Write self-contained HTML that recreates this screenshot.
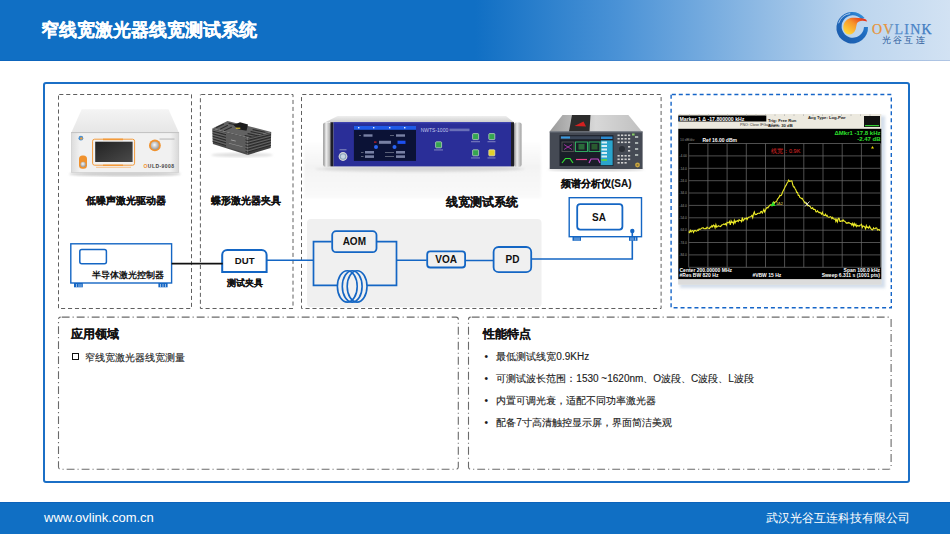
<!DOCTYPE html>
<html><head><meta charset="utf-8">
<style>
*{box-sizing:border-box}
html,body{margin:0;padding:0;width:950px;height:534px;overflow:hidden;background:#fff;font-family:"Liberation Sans",sans-serif;}
.a{position:absolute}
#hdr{left:0;top:0;width:950px;height:61px;background:linear-gradient(90deg,#106fc4 0%,#106fc4 50%,#4a92d6 65%,#8fbae4 80%,#bcd5ee 90%,#d2e2f3 100%);}
#title{left:41.2px;top:19px;font-size:17.8px;font-weight:bold;color:#fff;line-height:22px;white-space:nowrap;-webkit-text-stroke:0.2px #fff}
#ftr{left:0;top:502px;width:950px;height:32px;background:#106fc4}
.ft{color:#fff;font-size:12px;line-height:14px;top:511px;white-space:nowrap}
#panel{left:43.1px;top:82.1px;width:866.5px;height:400.5px;border:2px solid #1b6fc6;border-radius:3px}
.lbl{font-weight:bold;color:#111;white-space:nowrap;line-height:1;-webkit-text-stroke:0.12px #111}
.box{border:2px solid #1a6fc8;background:#fff;font-weight:bold;color:#111;text-align:center;white-space:nowrap}
</style></head><body>
<div id="hdr" class="a"></div>
<div class="a" style="left:0;top:60px;width:950px;height:1px;background:rgba(0,50,150,0.16)"></div>

<svg id="logo" class="a" style="left:0;top:0" width="950" height="61" viewBox="0 0 950 61">
 <defs>
  <linearGradient id="lgring" x1="0" y1="1" x2="1" y2="0"><stop offset="0" stop-color="#1b58a8"/><stop offset="0.6" stop-color="#1f6cc0"/><stop offset="1" stop-color="#3a9ee6"/></linearGradient>
  <linearGradient id="lgfl" x1="0.1" y1="0.9" x2="0.9" y2="0.1"><stop offset="0" stop-color="#ffd83a"/><stop offset="0.55" stop-color="#f7952a"/><stop offset="1" stop-color="#e4301c"/></linearGradient>
  <linearGradient id="lgtxt" x1="0" y1="0" x2="1" y2="0"><stop offset="0" stop-color="#e8923a"/><stop offset="0.25" stop-color="#e8923a"/><stop offset="0.33" stop-color="#5b90cc"/><stop offset="1" stop-color="#3a76bc"/></linearGradient>
 </defs>
 <path d="M868.00,27.00 A15.8,15.8 0 1 1 864.65,17.97 L861.38,19.30 A11.2,11.2 0 1 0 864.00,27.10 Z" fill="url(#lgring)"/>
 <path d="M838.60,23.28 A14.3,14.3 0 0 1 850.21,13.54" fill="none" stroke="#b9d3ee" stroke-width="0.9"/>
 <path d="M867.2,21.6 C862,20 858.5,21 857,23.2 C856.3,25.5 856.2,27.5 855.6,29.5 C854.3,33 851.5,34.8 849,34.6 C845,34 843.2,30.5 843.3,27 C843.5,22 847.5,18.3 852,17.8 C857,17.3 863,18 866,19.5 Z" fill="url(#lgfl)"/>
 <text x="872" y="34.3" font-family="Liberation Serif" font-size="14" fill="url(#lgtxt)" letter-spacing="1.2" stroke="url(#lgtxt)" stroke-width="0.25">OVLINK</text>
 <text x="881.5" y="42.6" font-family="Liberation Serif" font-size="8.6" fill="#2c5c9c" letter-spacing="2.4">光谷互连</text>
</svg>

<div id="title" class="a">窄线宽激光器线宽测试系统</div>
<div id="ftr" class="a"></div>
<div class="a" style="left:0;top:502px;width:950px;height:1px;background:rgba(0,50,150,0.2)"></div>
<div class="a ft" style="left:44px;font-size:13px;top:510.5px">www.ovlink.com.cn</div>
<div class="a ft" style="left:766px">武汉光谷互连科技有限公司</div>
<div id="panel" class="a"></div>

<svg class="a" style="left:0;top:0" width="950" height="534" viewBox="0 0 950 534">
  <!-- gray rect in box3 -->
  <rect x="307" y="219" width="234.5" height="88.2" rx="4" fill="#f0f0f0"/>
  <!-- dashed boxes -->
  <g fill="none" stroke="#606060" stroke-width="1" stroke-dasharray="4.1 2.85" stroke-dashoffset="6.2">
    <rect x="58.5" y="94.5" width="133" height="214"/>
    <rect x="200.4" y="94.5" width="92.6" height="214"/>
    <rect x="301.5" y="94.5" width="359.6" height="214"/>
  </g>
  <rect x="671.1" y="94.5" width="220.2" height="213.2" fill="none" stroke="#1565c8" stroke-width="1.4" stroke-dasharray="4 2.95" stroke-dashoffset="6.2"/>
  <g fill="none" stroke="#6a6a6a" stroke-width="1.1" stroke-dasharray="7.9 3 1.1 3" stroke-dashoffset="-1">
    <rect x="58.5" y="317.1" width="399.8" height="152.2" rx="2.2"/>
    <rect x="468.5" y="317.1" width="422.6" height="152.2" rx="2.2"/>
  </g>
</svg>


<svg class="a" style="left:0;top:0" width="950" height="534" viewBox="0 0 950 534">
 <g fill="none" stroke="#1466c4" stroke-width="1.7">
  <!-- controller -->
  <rect x="70.8" y="243.8" width="100.8" height="39.2" fill="#fff" stroke-width="1.4"/>
  <rect x="79.8" y="249.5" width="26.6" height="14.3" rx="2" stroke-width="1.5"/>
  <!-- DUT -->
  <path d="M222.2,272 V255.1 a5,5 0 0 1 5,-5 H261.6 a5,5 0 0 1 5,5 V272 Z" fill="#fff" stroke-width="2"/>
  <!-- line DUT to loop -->
  <path d="M266.6,260.3 H313.5" stroke-width="1.6"/>
  <!-- loop -->
  <path d="M331.6,241.6 H313.5 V285.4 H337.4 M367,285.4 H396.5 V241.6 H377" stroke-width="1.7"/>
  <path d="M396.5,260.3 H426.7 M465.6,260.5 H493 M532,259 H632.3 V231" stroke-width="1.6"/>
  <rect x="332.2" y="231.1" width="44.3" height="21.1" rx="4" fill="none" stroke-width="1.8"/>
  <rect x="427.2" y="251.4" width="37.9" height="16.1" rx="3" fill="none" stroke-width="1.8"/>
  <rect x="493.6" y="247" width="37.6" height="25.2" rx="5" fill="none" stroke-width="1.8"/>
  <!-- coil -->
  <ellipse cx="347.3" cy="286.4" rx="9.9" ry="15.7" stroke-width="1.6"/>
  <ellipse cx="352.2" cy="286.4" rx="9.9" ry="15.7" stroke-width="1.6"/>
  <ellipse cx="357.1" cy="286.4" rx="9.9" ry="15.7" stroke-width="1.6"/>
  <!-- SA -->
  <rect x="569.2" y="197.7" width="72.3" height="39" fill="none" stroke-width="1.4"/>
  <rect x="577.2" y="204.1" width="45.2" height="25.5" rx="3" stroke-width="1.8"/>
 </g>
 <path d="M171.6,263.6 H222.7" stroke="#111" stroke-width="1.6"/>
 <circle cx="632.3" cy="231" r="2.2" fill="#1466c4"/>
 <g fill="#1466c4">
  <rect x="74" y="283" width="8.8" height="4.3"/>
  <rect x="158.4" y="283" width="9.2" height="4.3"/>
  <rect x="572.5" y="236.5" width="8.5" height="4.3"/>
  <rect x="629" y="236.5" width="8.5" height="4.3"/>
 </g>
 <g stroke="#cfe0f4" stroke-width="0.7">
  <path d="M76.5,284 V287 M79,284 V287 M81,284 V287 M160.5,284 V287 M163,284 V287 M165.5,284 V287"/>
  <path d="M575,237.5 V240.5 M577,237.5 V240.5 M579,237.5 V240.5 M631,237.5 V240.5 M633,237.5 V240.5 M635.5,237.5 V240.5"/>
 </g>
 <g font-family="Liberation Sans" font-weight="bold" font-size="10" fill="#111" text-anchor="middle">
  <text x="354.3" y="245">AOM</text>
  <text x="446.2" y="263.3">VOA</text>
  <text x="512.5" y="262.6">PD</text>
  <text x="599" y="220.7">SA</text>
  <text x="244.7" y="263.8" font-size="9.6">DUT</text>
 </g>
 <text x="92.4" y="278" font-family="Liberation Sans" font-weight="bold" font-size="9" fill="#111">半导体激光控制器</text>
</svg>


<svg class="a" style="left:0;top:0" width="950" height="534" viewBox="0 0 950 534">
 <defs>
  <linearGradient id="g1top" x1="0" y1="0" x2="0" y2="1"><stop offset="0" stop-color="#f4f4f4"/><stop offset="1" stop-color="#e6e6e6"/></linearGradient>
  <linearGradient id="g1front" x1="0" y1="0" x2="1" y2="0"><stop offset="0" stop-color="#dcdcdc"/><stop offset="0.08" stop-color="#f1f1f1"/><stop offset="0.92" stop-color="#f1f1f1"/><stop offset="1" stop-color="#d8d8d8"/></linearGradient>
  <linearGradient id="gscr" x1="0" y1="0" x2="1" y2="1"><stop offset="0" stop-color="#222"/><stop offset="1" stop-color="#4a4a4a"/></linearGradient>
  <radialGradient id="gknob" cx="0.45" cy="0.4" r="0.6"><stop offset="0" stop-color="#fafafa"/><stop offset="1" stop-color="#9a9a9a"/></radialGradient>
  <linearGradient id="ghandle" x1="0" y1="0" x2="1" y2="0"><stop offset="0" stop-color="#8a8a8a"/><stop offset="0.4" stop-color="#f0f0f0"/><stop offset="1" stop-color="#a0a0a0"/></linearGradient>
  <linearGradient id="gnwtop" x1="0" y1="0" x2="0" y2="1"><stop offset="0" stop-color="#eeeeee"/><stop offset="1" stop-color="#cfcfcf"/></linearGradient>
  <linearGradient id="gsatop" x1="0" y1="0" x2="1" y2="0"><stop offset="0" stop-color="#9a9a9a"/><stop offset="0.5" stop-color="#d8d8d8"/><stop offset="1" stop-color="#c0c0c0"/></linearGradient>
  <linearGradient id="gfloor" x1="0" y1="0" x2="0" y2="1"><stop offset="0" stop-color="#ffffff"/><stop offset="0.46" stop-color="#f3f3f3"/><stop offset="0.75" stop-color="#f7f7f7"/><stop offset="1" stop-color="#fafafa"/></linearGradient>
  <filter id="blur1"><feGaussianBlur stdDeviation="1.2"/></filter>
 </defs>
 <!-- Device 1: laser driver -->
 <ellipse cx="125" cy="174" rx="56" ry="2.5" fill="#cfcfcf" filter="url(#blur1)"/>
 <polygon points="81.7,109.2 168.5,109.2 178.8,132.6 71.4,132.6" fill="url(#g1top)"/>
 <rect x="71.4" y="132.6" width="107.4" height="39.8" fill="url(#g1front)" stroke="#c9c9c9" stroke-width="0.6"/>
 <line x1="71.4" y1="132.6" x2="178.8" y2="132.6" stroke="#bdbdbd" stroke-width="0.8"/>
 <rect x="92.6" y="139.2" width="42" height="26" rx="2" fill="none" stroke="#f39a3a" stroke-width="1"/>
 <rect x="103" y="138.6" width="20" height="1.6" fill="#f39a3a"/>
 <rect x="103" y="164.6" width="20" height="1.4" fill="#f39a3a"/>
 <rect x="95.2" y="141.7" width="37.4" height="20.3" fill="url(#gscr)"/>
 <rect x="96" y="166.8" width="35" height="1" fill="#f6c08a"/>
 <circle cx="154.9" cy="145.4" r="5.9" fill="#f0922e"/>
 <circle cx="154.9" cy="145.6" r="4.1" fill="url(#gknob)"/>
 <rect x="159.5" y="138.6" width="15" height="0.9" fill="#b0b0b0"/>
 <rect x="79" y="155.4" width="8" height="13.4" rx="3.5" fill="#f0922e"/>
 <circle cx="83.1" cy="164.4" r="2.6" fill="url(#gknob)"/>
 <circle cx="80.9" cy="138.2" r="2.4" fill="#4a90d0"/>
 <circle cx="81.3" cy="138.4" r="1.2" fill="#f3a03a"/>
 <text x="143.5" y="167.8" font-family="Liberation Sans" font-size="5" font-weight="bold" fill="#444" letter-spacing="0.45"><tspan fill="#f0922e">O</tspan>ULD-9008</text>

 <!-- Device 2: butterfly fixture -->
 <ellipse cx="242" cy="155" rx="31" ry="2.2" fill="#e0e0e0" filter="url(#blur1)"/>
 <polygon points="212.3,128.5 227.5,121 271.2,131.9 247.7,137.5" fill="#626262"/>
 <polygon points="212.3,128.5 247.7,137.5 247.7,155 212.9,144" fill="#4a4a4a"/>
 <polygon points="247.7,137.5 271.2,131.9 270.7,148 247.7,155" fill="#404040"/>
 <g stroke="#2c2c2c" stroke-width="1.1" fill="none" stroke-linecap="round">
  <path d="M216.5,127.4 L223.5,124.2 M220.5,129 L227.5,125.6 M224.5,130.4 L231.5,127.2 M229,123.4 L235,124.8"/>
  <path d="M251,131.6 L262.5,134.3 M248,133.6 L259,136.1 M245,135.5 L254,137.3 M253,129.6 L265,132.3"/>
 </g>
 <g stroke="#2a2a2a" stroke-width="1" fill="none"><path d="M212.6,131.08 L247.7,140.42 L270.9,134.58 M212.6,133.67 L247.7,143.33 L270.9,137.27 M212.6,136.25 L247.7,146.25 L270.9,139.95 M212.6,138.83 L247.7,149.17 L270.9,142.63 M212.6,141.42 L247.7,152.08 L270.9,145.32"/></g>
 <g stroke="#7c7c7c" stroke-width="0.6" fill="none"><path d="M212.6,129.98 L247.7,139.32 L270.9,133.48 M212.6,132.57 L247.7,142.23 L270.9,136.17 M212.6,135.15 L247.7,145.15 L270.9,138.85 M212.6,137.73 L247.7,148.07 L270.9,141.53 M212.6,140.32 L247.7,150.98 L270.9,144.22"/></g>
 <polygon points="226,132.4 245.5,137.3 245.5,152.5 226,147.2" fill="#5c5c5c"/>
 <rect x="231" y="139.5" width="5" height="0.8" fill="#aaa" transform="rotate(14 231 139.5)"/>
 <rect x="229" y="143" width="14" height="0.6" fill="#999" transform="rotate(14 229 143)"/>
 <polygon points="233.5,125 240,122.2 248,124.5 246.5,130.8 238,129.2" fill="#1c1c1c"/>
 <rect x="235.8" y="127.6" width="4.5" height="1.3" fill="#c9b030"/>
 <!-- Device 3: NWTS-1000 -->
 <rect x="304" y="140" width="237" height="58" fill="url(#gfloor)" filter="url(#blur1)"/>
 <ellipse cx="420" cy="169" rx="105" ry="3.5" fill="#e4e4e4" filter="url(#blur1)"/>
 <ellipse cx="422" cy="168.5" rx="98" ry="2.2" fill="#d4d4d4" filter="url(#blur1)"/>
 <polygon points="337.5,116.1 506,116.1 514,122.2 325.3,122.2" fill="url(#gnwtop)"/>
 <rect x="323.2" y="122.4" width="7.4" height="44.4" rx="2.2" fill="url(#ghandle)"/>
 <rect x="514" y="122.4" width="7.6" height="44.4" rx="2.2" fill="url(#ghandle)"/>
 <rect x="330.4" y="122.2" width="3.2" height="44.2" fill="#1e1e28"/>
 <rect x="511" y="122.2" width="3" height="44.2" fill="#1e1e28"/>
 <rect x="333.6" y="122.2" width="177.4" height="44.2" fill="#2a2e98"/>
 <rect x="333.6" y="122.2" width="177.4" height="1.2" fill="#3a40b0"/>
 <rect x="353.9" y="125.8" width="62.1" height="35.1" fill="#0b1236"/>
 <rect x="353.9" y="125.8" width="62.1" height="4" fill="#1f5ae8"/>
 <g fill="#e8eefc"><rect x="358" y="127" width="1.4" height="1.4"/><rect x="373" y="127" width="1.4" height="1.4"/><rect x="389" y="127" width="1.4" height="1.4"/><rect x="404" y="127" width="1.4" height="1.4"/></g>
 <g fill="#7880a4">
  <rect x="363.5" y="134.3" width="9" height="2.4"/><rect x="396" y="134.3" width="9" height="2.4"/>
  <rect x="379" y="140.8" width="12" height="3"/>
  <rect x="365" y="151" width="9" height="2.6"/><rect x="365" y="155.3" width="9" height="2.6"/>
  <rect x="396" y="151" width="9" height="2.6"/><rect x="396" y="155.3" width="9" height="2.6"/>
 </g>
 <g fill="#5a6078"><rect x="359" y="135" width="2" height="1"/><rect x="390" y="135" width="4" height="1"/><rect x="361" y="152" width="2.5" height="1"/><rect x="361" y="156" width="2.5" height="1"/><rect x="385" y="152" width="9" height="1"/><rect x="385" y="156" width="9" height="1"/></g>
 <rect x="374" y="141.5" width="2.5" height="1.2" fill="#d02020"/>
 <rect x="397.5" y="140.7" width="8" height="3.2" fill="#1d50f0"/>
 <circle cx="376" cy="147" r="2" fill="#2a64f0"/><circle cx="394.5" cy="147" r="2" fill="#2a64f0"/>
 <circle cx="343" cy="156.5" r="4.4" fill="#d8d8d8"/><circle cx="343" cy="156.5" r="3.3" fill="#8ca4bc"/><circle cx="343" cy="156.5" r="2.2" fill="#c8d6e4"/>
 <rect x="339.5" y="149.3" width="7" height="1" fill="#8a90c0"/>
 <text x="420.7" y="131.8" font-family="Liberation Sans" font-size="5" fill="#c4c8ec">NWTS-1000</text>
 <rect x="449.5" y="128.6" width="20" height="2.6" fill="#6a70b8"/>
 <g fill="#34a550" stroke="#c8dcc8" stroke-width="0.7">
  <rect x="435.6" y="141.8" width="6" height="6" rx="0.8"/>
  <rect x="472.6" y="133.6" width="6" height="6" rx="0.8"/>
  <rect x="488.8" y="133.6" width="6" height="6" rx="0.8"/>
  <rect x="472.6" y="149.8" width="6" height="6" rx="0.8"/>
 </g>
 <rect x="488.8" y="149.8" width="6" height="6" rx="0.8" fill="#e2d02a" stroke="#ece8b0" stroke-width="0.7"/>
 <g fill="#8a8ec8"><rect x="434" y="149.5" width="9" height="0.9"/><rect x="471" y="141.3" width="9" height="0.9"/><rect x="487.5" y="141.3" width="8" height="0.9"/><rect x="471" y="157.5" width="9" height="0.9"/><rect x="487.5" y="157.5" width="8" height="0.9"/></g>
 <!-- Device 4: SA -->
 <ellipse cx="596" cy="169.5" rx="48" ry="1.8" fill="#d4d4d4" filter="url(#blur1)"/>
 <polygon points="562.5,115 628.4,115 641.9,131.5 549.7,131.5" fill="url(#gsatop)"/>
 <polygon points="572,115 590.5,115 589.5,131.5 569,131.5" fill="#2c2c2c"/>
 <path d="M574.5,126 L583.5,121.5 L586,126.5 Z" fill="#d42020"/>
 <rect x="549.7" y="131.5" width="92.9" height="37.5" fill="#454a54"/>
 <rect x="549.7" y="131.5" width="92.9" height="1" fill="#6a707a"/>
 <rect x="559.5" y="135.2" width="53.9" height="30.8" fill="#1a1e28"/>
 <rect x="560.5" y="136.2" width="40" height="3" fill="#3a4658"/>
 <rect x="561" y="136.5" width="9" height="2" fill="#3a9ae0"/>
 <rect x="601" y="136.5" width="11.5" height="2.5" fill="#2a8ad0"/>
 <rect x="600.7" y="140.4" width="12" height="24.8" fill="#2aa4cc"/>
 <g fill="#d8eef6"><rect x="601.5" y="141.5" width="5.5" height="2"/><rect x="601.5" y="145" width="5.5" height="2"/><rect x="601.5" y="148.5" width="5.5" height="2"/><rect x="601.5" y="152" width="5.5" height="2"/><rect x="601.5" y="155.5" width="5.5" height="2"/></g>
 <rect x="601.5" y="159" width="5.5" height="2" fill="#5c5"/>
 <g fill="none" stroke-width="0.9">
  <rect x="562" y="142" width="12" height="9.5" stroke="#555"/>
  <rect x="575.5" y="142" width="12" height="9.5" stroke="#3b6"/>
  <rect x="589" y="142" width="11" height="9.5" stroke="#3b6"/>
  <rect x="578.5" y="144" width="6" height="5.5" fill="#2a6a3a" stroke="none"/>
  <rect x="591.5" y="144" width="6" height="5.5" fill="#2a5a30" stroke="none"/>
  <path d="M564,144.5 L572,149.5 M572,144.5 L564,149.5" stroke="#a3a"/>
  <path d="M562,163 L565.5,158.5 L570,158.5 L573,163" stroke="#3d3" stroke-width="1.2"/>
  <path d="M576,159.5 H587" stroke="#e8408a" stroke-width="1.2"/>
  <path d="M589,163 L591,159 H598 L600,163" stroke="#c44ccc" stroke-width="1.2"/>
 </g>
 <g fill="#d0d0d0">
  <rect x="617.5" y="134.5" width="2.2" height="1.6"/><rect x="621" y="134.5" width="2.2" height="1.6"/><rect x="624.5" y="134.5" width="2.2" height="1.6"/><rect x="628" y="134.5" width="2.2" height="1.6"/>
  <rect x="617.5" y="138" width="2.2" height="1.6"/><rect x="621" y="138" width="2.2" height="1.6"/><rect x="624.5" y="138" width="2.2" height="1.6"/><rect x="628" y="138" width="2.2" height="1.6"/>
  <rect x="617.5" y="141.5" width="2.2" height="1.6"/><rect x="621" y="141.5" width="2.2" height="1.6"/><rect x="624.5" y="141.5" width="2.2" height="1.6"/><rect x="628" y="141.5" width="2.2" height="1.6"/>
  <rect x="628" y="146" width="2.2" height="1.6"/><rect x="628" y="150" width="2.2" height="1.6"/>
  <rect x="617.5" y="155" width="2.2" height="1.6"/><rect x="621" y="155" width="2.2" height="1.6"/><rect x="624.5" y="155" width="2.2" height="1.6"/><rect x="628" y="155" width="2.2" height="1.6"/>
  <rect x="617.5" y="158.5" width="2.2" height="1.6"/><rect x="621" y="158.5" width="2.2" height="1.6"/><rect x="624.5" y="158.5" width="2.2" height="1.6"/><rect x="628" y="158.5" width="2.2" height="1.6"/>
  <rect x="617.5" y="162" width="2.2" height="1.6"/><rect x="621" y="162" width="2.2" height="1.6"/><rect x="624.5" y="162" width="2.2" height="1.6"/>
 </g>
 <circle cx="622" cy="149" r="3.6" fill="#2a2e36" stroke="#5a5e66" stroke-width="0.5"/>
 <rect x="632" y="133.5" width="2.6" height="2" fill="#8c6"/>
 <g fill="#a8b0b0"><rect x="635" y="136" width="3.2" height="2"/><rect x="635" y="142" width="3.2" height="2"/><rect x="635" y="148" width="3.2" height="2"/><rect x="635" y="154" width="3.2" height="2"/></g>
 <circle cx="637.5" cy="165" r="2.4" fill="#c9a640"/>
 <circle cx="637.5" cy="165" r="1" fill="#8a7030"/>
 </svg>


<svg class="a" style="left:0;top:0" width="950" height="534" viewBox="0 0 950 534">
 <defs><filter id="sh2"><feGaussianBlur stdDeviation="1.5"/></filter></defs>
 <rect x="680" y="116" width="205" height="172" fill="#c9d6e6" filter="url(#sh2)" opacity="0.8"/>
 <rect x="678.3" y="114" width="203" height="170.5" fill="#ece9df"/>
 <rect x="678.3" y="128.8" width="203" height="150.5" fill="#000"/>
 <rect x="678.3" y="279.3" width="203" height="5.2" fill="#dcdcdc"/>
 <rect x="678.3" y="115.5" width="88" height="6" fill="#000"/>
 <text x="679.5" y="120.8" font-family="Liberation Sans" font-size="5.2" font-weight="bold" fill="#fff">Marker 1 Δ -17.800000 kHz</text>
 <text x="740" y="126" font-family="Liberation Sans" font-size="3.6" fill="#333">PNO: Close  IFGain:Low</text>
 <text x="768" y="122" font-family="Liberation Sans" font-size="4.2" font-weight="bold" fill="#222">Trig: Free Run</text>
 <text x="768" y="127" font-family="Liberation Sans" font-size="4.2" font-weight="bold" fill="#222">Atten: 30 dB</text>
 <text x="808" y="118.5" font-family="Liberation Sans" font-size="4.2" font-weight="bold" fill="#222">Avg Type: Log-Pwr</text>
 <rect x="864" y="116" width="16" height="11" fill="#111"/>
 <g fill="#3c3"><rect x="865" y="125" width="14" height="1.2"/></g>
 <g stroke="#6a6a6a" stroke-width="0.75" fill="none">
  <path d="M688.7,143.5 H880.5 M688.7,155.9 H880.5 M688.7,168.3 H880.5 M688.7,180.7 H880.5 M688.7,193 H880.5 M688.7,205.4 H880.5 M688.7,217.8 H880.5 M688.7,230.2 H880.5 M688.7,242.5 H880.5 M688.7,254.9 H880.5 M688.7,267.3 H880.5"/>
  <path d="M688.7,143.5 V267.3 M707.9,143.5 V267.3 M727.1,143.5 V267.3 M746.3,143.5 V267.3 M765.5,143.5 V267.3 M784.6,143.5 V267.3 M803.8,143.5 V267.3 M823,143.5 V267.3 M842.2,143.5 V267.3 M861.4,143.5 V267.3 M880.5,143.5 V267.3"/>
 </g>
 <text x="687" y="157.1" font-family="Liberation Sans" font-size="3.4" fill="#9a9a9a" text-anchor="end">-4.00</text><text x="687" y="169.5" font-family="Liberation Sans" font-size="3.4" fill="#9a9a9a" text-anchor="end">-14.0</text><text x="687" y="181.9" font-family="Liberation Sans" font-size="3.4" fill="#9a9a9a" text-anchor="end">-24.0</text><text x="687" y="194.2" font-family="Liberation Sans" font-size="3.4" fill="#9a9a9a" text-anchor="end">-34.0</text><text x="687" y="206.6" font-family="Liberation Sans" font-size="3.4" fill="#9a9a9a" text-anchor="end">-44.0</text><text x="687" y="219.0" font-family="Liberation Sans" font-size="3.4" fill="#9a9a9a" text-anchor="end">-54.0</text><text x="687" y="231.4" font-family="Liberation Sans" font-size="3.4" fill="#9a9a9a" text-anchor="end">-64.0</text><text x="687" y="243.7" font-family="Liberation Sans" font-size="3.4" fill="#9a9a9a" text-anchor="end">-74.0</text><text x="687" y="256.1" font-family="Liberation Sans" font-size="3.4" fill="#9a9a9a" text-anchor="end">-84.0</text><g stroke="#9a9a9a" stroke-width="0.5"><path d="M680.0,114.3 V116"/><path d="M689.5,114.3 V116"/><path d="M699.0,114.3 V116"/><path d="M708.5,114.3 V116"/><path d="M718.0,114.3 V116"/><path d="M727.5,114.3 V116"/><path d="M737.0,114.3 V116"/><path d="M746.5,114.3 V116"/><path d="M756.0,114.3 V116"/><path d="M765.5,114.3 V116"/><path d="M775.0,114.3 V116"/><path d="M784.5,114.3 V116"/><path d="M794.0,114.3 V116"/><path d="M803.5,114.3 V116"/><path d="M813.0,114.3 V116"/><path d="M822.5,114.3 V116"/><path d="M832.0,114.3 V116"/><path d="M841.5,114.3 V116"/><path d="M851.0,114.3 V116"/><path d="M860.5,114.3 V116"/><path d="M870.0,114.3 V116"/></g>
 <text x="702.5" y="141.5" font-family="Liberation Sans" font-size="5" font-weight="bold" fill="#fff">Ref 16.00 dBm</text>
 <text x="680" y="141" font-family="Liberation Sans" font-size="3.5" fill="#888">10 dB/div</text>
 <text x="880.5" y="134.5" font-family="Liberation Sans" font-size="6" font-weight="bold" fill="#2ee02e" text-anchor="end">ΔMkr1 -17.8 kHz</text>
 <text x="880.5" y="140.5" font-family="Liberation Sans" font-size="6" font-weight="bold" fill="#2ee02e" text-anchor="end">-2.47 dB</text>
 <text x="771" y="153" font-family="Liberation Sans" font-size="5.5" fill="#e02828">线宽：0.9K</text>
 <path d="M872.5,146 l1.5,2.5 l-3,0 z" fill="#e8d800"/>
 <path id="trace" d="M688.7,231.6 L689.5,232.5 L690.3,230.4 L691.1,232.0 L691.9,230.8 L692.7,230.6 L693.5,232.4 L694.3,230.7 L695.1,230.4 L695.9,231.0 L696.7,231.2 L697.5,230.0 L698.3,230.5 L699.1,228.9 L699.9,229.3 L700.7,229.1 L701.5,228.2 L702.3,227.9 L703.1,227.6 L703.9,228.7 L704.7,228.6 L705.5,228.4 L706.3,228.6 L707.1,227.2 L707.9,228.1 L708.7,228.3 L709.5,228.6 L710.3,227.0 L711.1,227.2 L711.9,225.6 L712.7,226.8 L713.5,225.1 L714.3,225.7 L715.1,227.8 L715.9,224.6 L716.7,227.1 L717.5,226.6 L718.3,225.8 L719.1,226.3 L719.9,226.2 L720.7,226.5 L721.5,225.2 L722.3,224.7 L723.1,224.5 L723.9,223.9 L724.7,224.6 L725.5,223.7 L726.3,225.2 L727.1,222.4 L727.9,222.8 L728.7,222.8 L729.5,221.5 L730.3,224.9 L731.1,220.8 L731.9,222.5 L732.7,222.1 L733.5,223.8 L734.3,220.3 L735.1,222.9 L735.9,221.0 L736.7,221.3 L737.5,220.6 L738.3,221.5 L739.1,219.7 L739.9,220.4 L740.7,220.5 L741.5,221.6 L742.3,217.5 L743.1,220.8 L743.9,220.0 L744.7,218.5 L745.5,218.9 L746.3,217.9 L747.1,219.5 L747.9,217.9 L748.7,217.3 L749.5,216.9 L750.3,216.7 L751.1,216.4 L751.9,215.4 L752.7,217.7 L753.5,213.8 L754.3,211.9 L755.1,214.7 L755.9,214.3 L756.7,214.4 L757.5,213.5 L758.3,213.2 L759.1,213.2 L759.9,213.4 L760.7,211.7 L761.5,211.4 L762.3,213.0 L763.1,211.3 L763.9,209.4 L764.7,211.9 L765.5,210.1 L766.3,208.3 L767.1,207.3 L767.9,208.0 L768.7,206.5 L769.5,205.7 L770.3,204.8 L771.1,204.9 L771.9,205.7 L772.7,203.7 L773.5,202.0 L774.3,203.2 L775.1,201.9 L775.9,201.8 L776.7,201.2 L777.5,199.1 L778.3,198.2 L779.1,197.2 L779.9,195.2 L780.7,195.7 L781.5,195.1 L782.3,192.8 L783.1,191.1 L783.9,189.6 L784.7,187.7 L785.5,186.1 L786.3,184.9 L787.1,183.0 L787.9,182.0 L788.7,180.1 L789.5,181.3 L790.3,181.2 L791.1,180.9 L791.9,181.0 L792.7,184.5 L793.5,187.0 L794.3,186.9 L795.1,188.7 L795.9,190.1 L796.7,192.5 L797.5,192.4 L798.3,195.4 L799.1,195.4 L799.9,197.6 L800.7,197.8 L801.5,198.6 L802.3,198.4 L803.1,200.0 L803.9,201.2 L804.7,202.8 L805.5,203.2 L806.3,203.1 L807.1,204.8 L807.9,205.9 L808.7,205.6 L809.5,205.9 L810.3,206.6 L811.1,208.2 L811.9,208.5 L812.7,207.7 L813.5,209.4 L814.3,209.2 L815.1,209.4 L815.9,211.7 L816.7,211.8 L817.5,210.8 L818.3,212.0 L819.1,212.8 L819.9,212.2 L820.7,213.0 L821.5,214.1 L822.3,212.3 L823.1,214.6 L823.9,215.3 L824.7,215.5 L825.5,214.2 L826.3,216.0 L827.1,215.3 L827.9,216.9 L828.7,217.2 L829.5,217.2 L830.3,216.6 L831.1,217.1 L831.9,218.7 L832.7,217.4 L833.5,218.9 L834.3,219.2 L835.1,218.8 L835.9,221.5 L836.7,219.6 L837.5,221.8 L838.3,218.3 L839.1,218.3 L839.9,221.5 L840.7,221.4 L841.5,220.8 L842.3,221.3 L843.1,219.8 L843.9,221.2 L844.7,221.1 L845.5,222.0 L846.3,223.3 L847.1,222.7 L847.9,223.2 L848.7,222.5 L849.5,222.9 L850.3,223.6 L851.1,223.5 L851.9,225.1 L852.7,223.3 L853.5,226.0 L854.3,223.6 L855.1,225.7 L855.9,224.2 L856.7,226.6 L857.5,225.4 L858.3,225.8 L859.1,226.3 L859.9,225.2 L860.7,225.1 L861.5,224.3 L862.3,227.4 L863.1,225.9 L863.9,226.2 L864.7,226.8 L865.5,228.8 L866.3,225.6 L867.1,227.6 L867.9,227.1 L868.7,228.1 L869.5,226.2 L870.3,227.6 L871.1,228.9 L871.9,229.7 L872.7,229.9 L873.5,227.8 L874.3,228.8 L875.1,228.8 L875.9,227.8 L876.7,227.9 L877.5,230.0 L878.3,229.7 L879.1,229.5 L879.9,230.8" fill="none" stroke="#ecea28" stroke-width="1.1"/>
 <path d="M770.5,206 l2.5,-4.5 l2.5,4.5 z" fill="#2ee02e"/>
 <text x="776" y="205" font-family="Liberation Sans" font-size="3.8" fill="#e8e060">1Δ2</text>
 <path d="M805,201.5 l4.5,5 M809.5,201.5 l-4.5,5" stroke="#fff" stroke-width="0.8"/>
 <text x="679.5" y="271.5" font-family="Liberation Sans" font-size="5" font-weight="bold" fill="#fff">Center 200.00000 MHz</text>
 <text x="679.5" y="277" font-family="Liberation Sans" font-size="5" font-weight="bold" fill="#fff">#Res BW 820 Hz</text>
 <text x="752.4" y="277" font-family="Liberation Sans" font-size="5" font-weight="bold" fill="#fff">#VBW 15 Hz</text>
 <text x="880" y="271.5" font-family="Liberation Sans" font-size="5" font-weight="bold" fill="#fff" text-anchor="end">Span 100.0 kHz</text>
 <text x="880" y="277" font-family="Liberation Sans" font-size="5" font-weight="bold" fill="#fff" text-anchor="end">Sweep  6.311 s (1001 pts)</text>
</svg>

<!-- labels -->
<div class="a lbl" style="left:86px;top:196px;font-size:10px">低噪声激光驱动器</div>
<div class="a lbl" style="left:211px;top:196px;font-size:10px">蝶形激光器夹具</div>
<div class="a lbl" style="left:446px;top:196px;font-size:12px">线宽测试系统</div>
<div class="a lbl" style="left:561px;top:179px;font-size:10px">频谱分析仪(SA)</div>
<div class="a lbl" style="left:227px;top:278.5px;font-size:9px">测试夹具</div>

<div class="a lbl" style="left:71px;top:328px;font-size:12px">应用领域</div>
<div class="a" style="left:71.8px;top:352.8px;width:7px;height:7px;border:1.8px solid #111"></div>
<div class="a" style="left:85px;top:351.5px;font-size:9.85px;color:#1a1a1a;white-space:nowrap;-webkit-text-stroke:0.12px #1a1a1a">窄线宽激光器线宽测量</div>

<div class="a lbl" style="left:483px;top:328px;font-size:12px">性能特点</div>
<div class="a" style="left:484.5px;top:346.3px;font-size:10px;color:#1a1a1a;white-space:nowrap;line-height:21.8px;-webkit-text-stroke:0.12px #1a1a1a">
  <div>•&nbsp;&nbsp;&nbsp;最低测试线宽0.9KHz</div>
  <div>•&nbsp;&nbsp;&nbsp;可测试波长范围：1530 ~1620nm、O波段、C波段、L波段</div>
  <div>•&nbsp;&nbsp;&nbsp;内置可调光衰，适配不同功率激光器</div>
  <div>•&nbsp;&nbsp;&nbsp;配备7寸高清触控显示屏，界面简洁美观</div>
</div>
</body></html>
